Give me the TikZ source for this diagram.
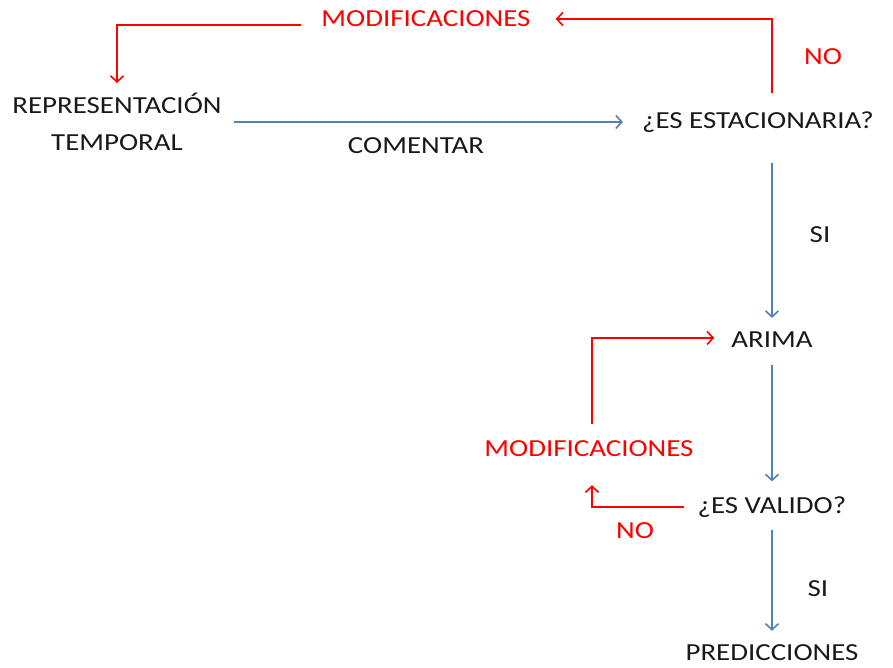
\documentclass[tikz,border=0pt]{standalone}
\usepackage{fontspec}
\setmainfont{Carlito}[FakeStretch=1.18]
\usetikzlibrary{arrows.meta}
\definecolor{txtgray}{RGB}{25,25,25}
\definecolor{nored}{RGB}{255,0,0}
\definecolor{siblue}{RGB}{79,129,189}

\begin{document}
\begin{tikzpicture}[x=1pt, y=-1pt,
        lbl/.style={inner sep=0pt, font=\fontsize{24.5}{37}\selectfont, text=txtgray},
        redlbl/.style={lbl, text=nored},
        bluearr/.style={draw=siblue, line width=1.6pt, -{Straight Barb[length=6pt, width=13pt]}},
        redarr/.style={draw=nored, line width=1.6pt, -{Straight Barb[length=6pt, width=13pt]}}]
    \useasboundingbox (0,0) rectangle (893,668);
    \node[redlbl] (modA) at (426,19) {MODIFICACIONES};
    \node[lbl, align=center] (rep) at (117,122) {REPRESENTACIÓN\\TEMPORAL};
    \node[lbl] (est) at (758,122) {¿ES ESTACIONARIA?};
    \node[lbl] (com) at (416,146) {COMENTAR};
    \node[redlbl] (noA) at (823,57) {NO};
    \node[lbl] (siA) at (820,235) {SI};
    \node[lbl] (arima) at (772,340) {ARIMA};
    \node[redlbl] (modB) at (589,449) {MODIFICACIONES};
    \node[lbl] (val) at (772,507) {¿ES VALIDO?};
    \node[redlbl] (noB) at (635,531) {NO};
    \node[lbl] (siB) at (818,589) {SI};
    \node[lbl] (pred) at (772,653) {PREDICCIONES};
    % connectors
    \draw[bluearr, shorten <=12pt, shorten >=19pt] (rep) -- (est);
    \draw[bluearr, shorten <=30pt, shorten >=14pt] (est.south -| arima) -- (arima.north);
    \draw[bluearr, shorten <=17pt, shorten >=15pt] (arima.south) -- (val.north);
    \draw[bluearr, shorten <=12pt, shorten >=14pt] (val.south) -- (pred.north);
    \draw[redarr, shorten <=18pt, shorten >=25pt] (est.north -| arima) |- (modA.east);
    \draw[redarr, shorten <=20pt, shorten >=10pt] ([yshift=-6pt]modA.west) -| (rep.north);
    \draw[redarr, shorten <=17pt, shorten >=17pt] (modB.north -| 592,0) |- ([yshift=2pt]arima.west);
    \draw[redarr, shorten <=14pt, shorten >=28pt] (val.west) -| (modB.south -| 592,0);
\end{tikzpicture}
\end{document}
